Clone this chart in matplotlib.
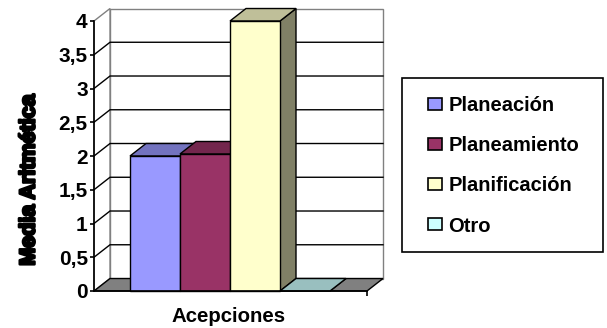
import numpy as np
import matplotlib
matplotlib.use("Agg")
import matplotlib.pyplot as plt
import matplotlib.patheffects as pe
from matplotlib.patches import Polygon, Patch, Rectangle

# data
series = ["Planeación", "Planeamiento", "Planificación", "Otro"]
values = [2.0, 2.03, 4.0, 0.0]
front_colors = ["#9999FF", "#993366", "#FFFFCC", "#CCFFFF"]
top_colors = ["#7373BF", "#73264D", "#BFBF99", "#99BFBF"]
side_colors = ["#5C5C99", "#5C1F3D", "#808066", "#7A9999"]
yticks = [0, 0.5, 1, 1.5, 2, 2.5, 3, 3.5, 4]
ytick_labels = ["0", "0,5", "1", "1,5", "2", "2,5", "3", "3,5", "4"]
xlabel = "Acepciones"
ylabel = "Media Aritmética"

plt.rcParams['font.family'] = ['Liberation Sans', 'DejaVu Sans']

W, H = 607, 328
fig = plt.figure(figsize=(W / 100, H / 100), dpi=100)
# front plane of the 3d box, in pixels
ax = fig.add_axes([94 / W, (H - 291) / H, 273 / W, 270 / H])

x0, x1 = -0.72, 4.74
ymax = 4.0
ax.set_xlim(x0, x1)
ax.set_ylim(0, ymax)
dx, dy = 0.32, 0.185  # depth offset in data units

def poly(pts, fc, ec, z, lw=1.0):
    ax.add_patch(Polygon(pts, closed=True, facecolor=fc, edgecolor=ec,
                         lw=lw, zorder=z, clip_on=False))

# back wall and left wall
poly([(x0 + dx, dy), (x1 + dx, dy), (x1 + dx, ymax + dy), (x0 + dx, ymax + dy)],
     "white", "#808080", 1)
poly([(x0, 0), (x0 + dx, dy), (x0 + dx, ymax + dy), (x0, ymax)],
     "white", "#808080", 1)

# gridlines on left and back walls
for v in yticks[1:-1]:
    ax.plot([x0, x0 + dx, x1 + dx], [v, v + dy, v + dy], color="black",
            lw=1, zorder=2, clip_on=False)

# floor
poly([(x0, 0), (x1, 0), (x1 + dx, dy), (x0 + dx, dy)], "#808080", "black", 3)

# bars, left to right
for i, v in enumerate(values):
    xl, xr = i, i + 1
    poly([(xr, 0), (xr + dx, dy), (xr + dx, v + dy), (xr, v)],
         side_colors[i], "black", 4 + i)
    poly([(xl, v), (xr, v), (xr + dx, v + dy), (xl + dx, v + dy)],
         top_colors[i], "black", 4 + i)
    if v > 0:
        poly([(xl, 0), (xr, 0), (xr, v), (xl, v)], front_colors[i], "black", 4 + i)

# axes styling
for s in ["top", "right"]:
    ax.spines[s].set_visible(False)
for s in ["left", "bottom"]:
    ax.spines[s].set_color("black")
    ax.spines[s].set_linewidth(1.2)
    ax.spines[s].set_zorder(10)
ax.set_yticks(yticks)
ax.set_yticklabels(ytick_labels, fontsize=15, fontweight="bold")
ax.tick_params(axis="y", length=3, width=1.2, pad=1.5)
ax.set_xticks([x1])
ax.set_xticklabels([""])
ax.tick_params(axis="x", length=3.5, width=1.2)
ax.patch.set_visible(False)

ax.set_xlabel(xlabel, fontsize=14.7, fontweight="bold", va="center")
ax.xaxis.set_label_coords(0.494, -0.096)
ax.set_ylabel(ylabel, fontsize=15.5, fontweight="bold", va="center",
              path_effects=[pe.withStroke(linewidth=1.8, foreground="black")])
ax.yaxis.set_label_coords(-0.238, 0.411)

# legend
fig.patches.append(Rectangle((402 / W, (H - 252) / H), 201 / W, 174 / H,
                             transform=fig.transFigure, facecolor="white",
                             edgecolor="black", lw=1.2, zorder=0))
handles = [Patch(facecolor=c, edgecolor="black", lw=1.2) for c in front_colors]
leg = fig.legend(handles, series, loc="upper left",
                 bbox_to_anchor=(414 / W, (H - 82) / H),
                 frameon=False, prop={"size": 14.5, "weight": "bold"},
                 handlelength=0.7, handleheight=0.55, handletextpad=0.3,
                 labelspacing=1.05, borderpad=0.2)

fig.savefig("out.png", dpi=100)
